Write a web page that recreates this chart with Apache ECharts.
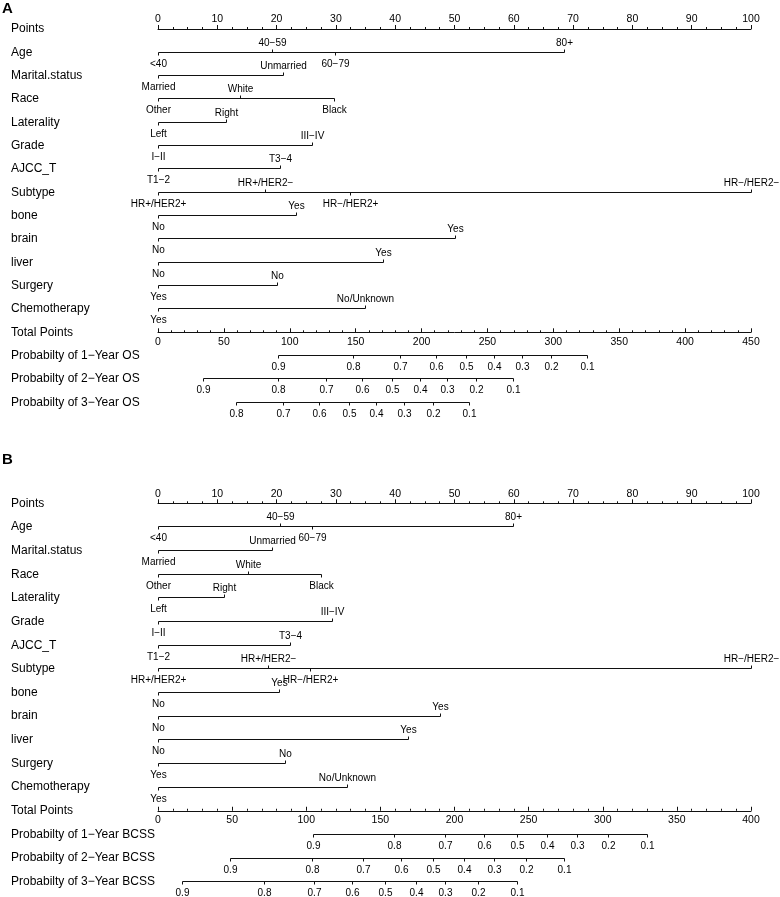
<!DOCTYPE html>
<html><head><meta charset="utf-8">
<script src="https://cdn.jsdelivr.net/npm/echarts@6/dist/echarts.min.js"></script>
<style>html,body{margin:0;padding:0;background:#fff}#c{width:780px;height:897px}</style>
</head><body><div id="c"></div>
<script>
// ---------- data ----------
const rowNamesA = ['Points','Age','Marital.status','Race','Laterality','Grade','AJCC_T','Subtype','bone','brain','liver','Surgery','Chemotherapy','Total Points','Probabilty of 1\u2212Year OS','Probabilty of 2\u2212Year OS','Probabilty of 3\u2212Year OS'];
const rowNamesB = ['Points','Age','Marital.status','Race','Laterality','Grade','AJCC_T','Subtype','bone','brain','liver','Surgery','Chemotherapy','Total Points','Probabilty of 1\u2212Year BCSS','Probabilty of 2\u2212Year BCSS','Probabilty of 3\u2212Year BCSS'];

const variableLevels = [
  ['<40','40\u221259','60\u221279','80+'],
  ['Married','Unmarried'],
  ['Other','White','Black'],
  ['Left','Right'],
  ['I\u2212II','III\u2212IV'],
  ['T1\u22122','T3\u22124'],
  ['HR+/HER2+','HR+/HER2\u2212','HR\u2212/HER2+','HR\u2212/HER2\u2212'],
  ['No','Yes'],
  ['No','Yes'],
  ['No','Yes'],
  ['Yes','No'],
  ['Yes','No/Unknown']
];
const pointsA = [[0,19.3,29.8,68.5],[0,21.1],[0,13.9,29.6],[0,11.4],[0,25.9],[0,20.5],[0,18.1,32.4,100],[0,23.2],[0,50],[0,37.9],[0,20.0],[0,34.9]];
const pointsB = [[0,20.5,26.0,59.8],[0,19.2],[0,15.1,27.5],[0,11.1],[0,29.4],[0,22.3],[0,18.5,25.6,100],[0,20.4],[0,47.6],[0,42.1],[0,21.4],[0,31.8]];

const probLabels9 = ['0.9','0.8','0.7','0.6','0.5','0.4','0.3','0.2','0.1'];
const probLabels8 = ['0.8','0.7','0.6','0.5','0.4','0.3','0.2','0.1'];
const probA1 = [91,148.2,183.8,211,234,255.3,276.1,298,325.3];
const probA2 = [34.3,91.4,127.8,155,177.7,198.7,219.6,241.3,269.1];
const probA3 = [59,94.7,121.8,145,165.4,186.9,209,236.2];
const probB1 = [104.3,159.4,193.6,220,242,262.3,282.5,303.8,329.6];
const probB2 = [48.6,103.6,138.2,163.7,185.8,206.2,226.6,248,273.7];
const probB3 = [16.5,71.5,105,130.9,153.1,173.7,193.4,216.1,242];

const totalMaxA = 450, totalMaxB = 400;

// ---------- style ----------
const FONT = 'Liberation Sans, Arial, Helvetica, sans-serif';
const INK = '#000';
const LINE = '#111';

const chart = echarts.init(document.getElementById('c'));
const grids = [
  {left:158, right:29, top:29, height:373.3},
  {left:158, right:29, top:503.3, height:378.4}
];

function crisp(v){ return Math.round(v - 0.5) + 0.5; }
function txt(x, y, s){
  return {type:'text', x:x, y:y, style:{text:s, fill:INK, fontSize:10, fontFamily:FONT, align:'center', verticalAlign:'middle'}};
}
function seg(x1,y1,x2,y2){
  return {type:'line', shape:{x1:x1,y1:y1,x2:x2,y2:y2}, style:{stroke:LINE, lineWidth:1}};
}

function varSeries(gi, pts){
  return {
    type:'custom', xAxisIndex: gi*2, yAxisIndex: gi, silent:true,
    data: pts.map((p,i)=>[0, i+1, i]),
    renderItem: function(params, api){
      const v = api.value(2), row = v + 1;
      const p = pts[v], lv = variableLevels[v];
      const y = crisp(api.coord([0,row])[1]);
      const xs = p.map(val => Math.round(api.coord([val,row])[0]) + 0.5);
      const ch = [seg(xs[0], y, Math.max.apply(null, xs), y)];
      p.forEach((val,j)=>{
        const up = j % 2 === 1;
        ch.push(seg(xs[j], y, xs[j], up ? y-3 : y+3));
        ch.push(txt(xs[j], up ? y-9.5 : y+11.5, lv[j]));
      });
      return {type:'group', children:ch};
    }
  };
}
function probSeries(gi, probs, labels){
  return {
    type:'custom', xAxisIndex: gi*2+1, yAxisIndex: gi, silent:true,
    data: probs.map((p,i)=>[0, 14+i, i]),
    renderItem: function(params, api){
      const k = api.value(2), row = 14 + k;
      const vals = probs[k], lab = labels[k];
      const y = crisp(api.coord([0,row])[1]);
      const xs = vals.map(val => Math.round(api.coord([val,row])[0]) + 0.5);
      const ch = [seg(xs[0], y, xs[xs.length-1], y)];
      vals.forEach((val,j)=>{
        ch.push(seg(xs[j], y, xs[j], y+3));
        ch.push(txt(xs[j], y+11.5, lab[j]));
      });
      return {type:'group', children:ch};
    }
  };
}

function pointsAxis(gi){
  return {
    gridIndex:gi, type:'value', position:'top', min:0, max:100, interval:10,
    axisLine:{show:true, onZero:false, lineStyle:{color:LINE, width:1}},
    axisTick:{show:true, length:4, lineStyle:{color:LINE}},
    minorTick:{show:true, splitNumber:4, length:2, lineStyle:{color:LINE}},
    splitLine:{show:false}, minorSplitLine:{show:false},
    axisLabel:{fontSize:10.5, fontFamily:FONT, color:INK, margin:4}
  };
}
function totalAxis(gi, max){
  return {
    gridIndex:gi, type:'value', position:'bottom', offset: -(3/16)*grids[gi].height,
    min:0, max:max, interval:50,
    axisLine:{show:true, onZero:false, lineStyle:{color:LINE, width:1}},
    axisTick:{show:true, inside:true, length:4, lineStyle:{color:LINE}},
    minorTick:{show:true, splitNumber:5, length:2, lineStyle:{color:LINE}},
    splitLine:{show:false}, minorSplitLine:{show:false},
    axisLabel:{fontSize:10.5, fontFamily:FONT, color:INK, margin:4}
  };
}
function rowAxis(gi, names){
  return {
    gridIndex:gi, type:'category', inverse:true, boundaryGap:false, data:names,
    axisLine:{show:false}, axisTick:{show:false}, splitLine:{show:false},
    axisLabel:{align:'left', margin:147, fontSize:12, fontFamily:FONT, color:INK, interval:0}
  };
}

chart.setOption({
  animation:false,
  backgroundColor:'#fff',
  grid: grids.map(g => Object.assign({outerBoundsMode:'none', containLabel:false}, g)),
  xAxis:[pointsAxis(0), totalAxis(0,totalMaxA), pointsAxis(1), totalAxis(1,totalMaxB)],
  yAxis:[rowAxis(0,rowNamesA), rowAxis(1,rowNamesB)],
  graphic:[
    {type:'text', left:2, top:1, style:{text:'A', fill:INK, font:'bold 15px '+FONT}},
    {type:'text', left:2, top:452, style:{text:'B', fill:INK, font:'bold 15px '+FONT}}
  ],
  series:[
    varSeries(0, pointsA),
    probSeries(0, [probA1, probA2, probA3], [probLabels9, probLabels9, probLabels8]),
    varSeries(1, pointsB),
    probSeries(1, [probB1, probB2, probB3], [probLabels9, probLabels9, probLabels9])
  ]
});
</script>
</body></html>
